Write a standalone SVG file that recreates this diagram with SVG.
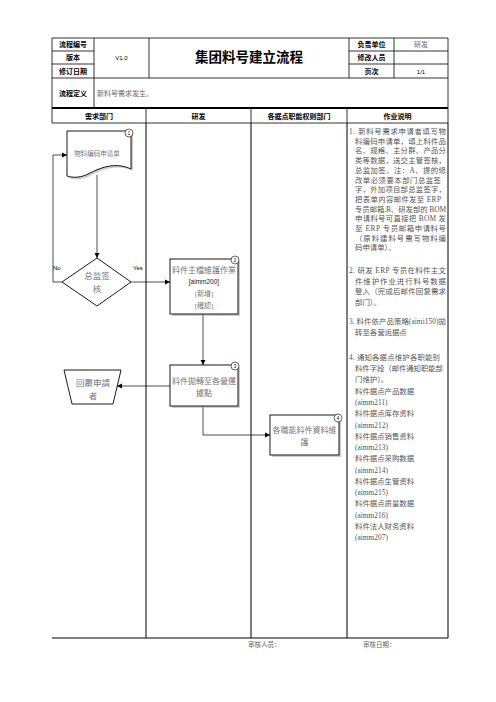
<svg xmlns="http://www.w3.org/2000/svg" width="496" height="702" viewBox="0 0 496 702">
<defs>
<style>
.bg{fill:#fff}
.ln{stroke:#000;stroke-width:0.8;fill:none}
.lane{stroke:#000;stroke-width:1;fill:none}
.lbl{font-family:"Noto Sans CJK SC","Liberation Sans",sans-serif;font-weight:700;font-size:7px;fill:#000;text-anchor:middle}
.sm{font-family:"Liberation Sans","Noto Sans CJK SC",sans-serif;font-size:6px;fill:#000;text-anchor:middle}
.gr{font-family:"Liberation Serif","Noto Sans CJK SC",serif;fill:#666}
.nt{font-family:"Liberation Serif","Noto Sans CJK TC",serif;fill:#777;text-anchor:middle}
.desc{font-family:"Liberation Serif","Noto Sans CJK SC",serif;font-size:7.4px;fill:#555}
.node{fill:#fff;stroke:#000;stroke-width:0.9}
.shd{fill:#aaa;opacity:0.6}
.num{fill:#fff;stroke:#000;stroke-width:0.6}
.numt{font-family:"Liberation Sans",sans-serif;font-size:4.5px;fill:#000;text-anchor:middle}
.cn{stroke:#000;stroke-width:0.7;fill:none;marker-end:url(#ah)}
.yn{font-family:"Liberation Sans",sans-serif;font-size:6px;fill:#000}
</style>
<marker id="ah" markerUnits="userSpaceOnUse" markerWidth="6" markerHeight="6" refX="5" refY="3" orient="auto">
<path d="M0,0.5 L5,3 L0,5.5 Z" fill="#000"/>
</marker>
</defs>
<rect class="bg" x="0" y="0" width="496" height="702"/>

<g id="header-table">
<path class="ln" d="M52,38 H448 M52,51 H94 M349,51 H448 M52,64 H94 M349,64 H448 M52,78 H448 M52,123 H448 M52,38 V123 M94,38 V107 M149,38 V78 M349,38 V78 M394,38 V78 M448,38 V123 M146,109 V123 M251,109 V123 M347,109 V123"/>
<line x1="52" y1="108" x2="448" y2="108" stroke="#000" stroke-width="2"/>
<text class="lbl" x="73" y="47">流程编号</text>
<text class="lbl" x="73" y="60">版本</text>
<text class="lbl" x="73" y="73.5">修订日期</text>
<text class="lbl" x="73" y="95.5">流程定义</text>
<text class="sm" x="121.5" y="60">V1.0</text>
<text x="249" y="62" font-family="'Noto Sans CJK SC',sans-serif" font-weight="700" font-size="13.5" text-anchor="middle" fill="#000">集团料号建立流程</text>
<text class="lbl" x="371.5" y="47">负责单位</text>
<text class="lbl" x="371.5" y="60">修改人员</text>
<text class="lbl" x="371.5" y="73.5">页次</text>
<text class="gr" x="421" y="47" font-size="7" text-anchor="middle">研发</text>
<text class="sm" x="421" y="73.5">1/1</text>
<text class="gr" x="97" y="96" font-size="7">新料号需求发生。</text>
<text class="lbl" x="99" y="119">需求部门</text>
<text class="lbl" x="198.5" y="119">研发</text>
<text class="lbl" x="299" y="119">各据点职能权则部门</text>
<text class="lbl" x="397.5" y="119">作业说明</text>
</g>

<g id="lanes">
<path class="lane" d="M146,123 V638 M251,123 V638 M347,123 V638 M448,123 V638 M52,638 H448"/>
</g>

<g id="connectors">
<polyline class="cn" points="62,282 53,282 53,155 67,155"/>
<line class="cn" x1="97" y1="175" x2="97" y2="258"/>
<line class="cn" x1="131" y1="282" x2="170" y2="282"/>
<line class="cn" x1="203" y1="314" x2="203" y2="365"/>
<line class="cn" x1="170" y1="386" x2="117" y2="386"/>
<polyline class="cn" points="203,406 203,435 270,435"/>
<text class="yn" x="53" y="270">No</text>
<text class="yn" x="133" y="270">Yes</text>
</g>

<g id="node1">
<path class="shd" d="M69,133 H133 V171 C118,164 104,169 92,175 C83,180 75,180 69,178 Z"/>
<path class="node" d="M67,131 H131 V169 C116,162 102,167 90,173 C81,178 73,178 67,176 Z"/>
<text class="nt" x="97" y="155.5" font-size="6.5">物料编码申请单</text>
<circle class="num" cx="129" cy="133" r="4"/><text class="numt" x="129" y="134.6">1</text>
</g>

<g id="node-decision">
<polygon class="node" points="97,258 131,282 97,306 62,282"/>
<text class="nt" x="97" y="279" font-size="8.5">总监签</text>
<text class="nt" x="97" y="292" font-size="8.5">核</text>
</g>

<g id="node2">
<rect class="shd" x="172" y="261" width="68" height="55"/>
<rect class="node" x="170" y="259" width="68" height="55"/>
<text class="nt" x="204" y="273" font-size="8">料件主檔維護作業</text>
<text x="204" y="284" font-size="6.5" font-family="'Liberation Sans',sans-serif" fill="#222" text-anchor="middle">[aimm200]</text>
<text class="nt" x="204" y="296" font-size="7">[新增]</text>
<text class="nt" x="204" y="308" font-size="7">[確認]</text>
<circle class="num" cx="235" cy="260" r="4"/><text class="numt" x="235" y="261.6">2</text>
</g>

<g id="node3">
<rect class="shd" x="172" y="367" width="68" height="41"/>
<rect class="node" x="170" y="365" width="68" height="41"/>
<text class="nt" x="204" y="384" font-size="8">料件拋轉至各營運</text>
<text class="nt" x="204" y="396" font-size="8">據點</text>
<circle class="num" cx="235" cy="366" r="4"/><text class="numt" x="235" y="367.6">3</text>
</g>

<g id="node-reply">
<polygon class="node" points="64,370 121,370 113,404 72,404"/>
<text class="nt" x="93" y="386" font-size="8.5">回覆申請</text>
<text class="nt" x="93" y="398.5" font-size="8.5">者</text>
</g>

<g id="node4">
<rect class="shd" x="272" y="417" width="69" height="40"/>
<rect class="node" x="270" y="415" width="69" height="40"/>
<text class="nt" x="304.5" y="433" font-size="8">各職能料件資料維</text>
<text class="nt" x="304.5" y="445" font-size="8">護</text>
<circle class="num" cx="338" cy="418" r="4"/><text class="numt" x="338" y="419.6">4</text>
</g>

<g id="description">
<text class="desc" x="349" y="134" textLength="97" lengthAdjust="spacing">1. 新料号需求申请者填写物</text>
<text class="desc" x="355" y="143.7" textLength="91" lengthAdjust="spacing">料编码申请单，填上料件品</text>
<text class="desc" x="355" y="153.4" textLength="91" lengthAdjust="spacing">名、规格、主分群、产品分</text>
<text class="desc" x="355" y="163.1" textLength="91" lengthAdjust="spacing">类等数据，送交主管签核，</text>
<text class="desc" x="355" y="172.8" textLength="91" lengthAdjust="spacing">总监加签。注：A、提的修</text>
<text class="desc" x="355" y="182.5" textLength="86" lengthAdjust="spacing">改单必须要本部门总监签</text>
<text class="desc" x="355" y="192.2" textLength="91" lengthAdjust="spacing">字，外加项目部总监签字，</text>
<text class="desc" x="355" y="201.9" textLength="86" lengthAdjust="spacing">把表单内容邮件发至 ERP</text>
<text class="desc" x="355" y="211.6" textLength="91" lengthAdjust="spacing">专员邮箱.B、研发部的 BOM</text>
<text class="desc" x="355" y="221.3" textLength="91" lengthAdjust="spacing">申请料号可直接把 BOM 发</text>
<text class="desc" x="355" y="231" textLength="91" lengthAdjust="spacing">至 ERP 专员邮箱申请料号</text>
<text class="desc" x="355" y="240.7" textLength="91" lengthAdjust="spacing">（原料建料号需写物料编</text>
<text class="desc" x="355" y="250.4">码申请单）。</text>
<text class="desc" x="349" y="273" textLength="97" lengthAdjust="spacing">2. 研发 ERP 专员在料件主文</text>
<text class="desc" x="355" y="283.5" textLength="91" lengthAdjust="spacing">件维护作业进行料号数据</text>
<text class="desc" x="355" y="294" textLength="91" lengthAdjust="spacing">登入（完成后邮件回复需求</text>
<text class="desc" x="355" y="304.5">部门）。</text>
<text class="desc" x="349" y="324" textLength="97" lengthAdjust="spacing">3. 料件依产品策略(aimi150)拋</text>
<text class="desc" x="355" y="335">转至各营运据点</text>
<text class="desc" x="349" y="360" textLength="91" lengthAdjust="spacing">4. 通知各据点维护各职能别</text>
<text class="desc" x="355" y="371" textLength="88" lengthAdjust="spacing">料件字段（邮件通知职能部</text>
<text class="desc" x="355" y="382">门维护）。</text>
<text class="desc" x="355" y="393.5">料件据点产品数据</text>
<text class="desc" x="355" y="405">(aimm211)</text>
<text class="desc" x="355" y="416">料件据点库存资料</text>
<text class="desc" x="355" y="427.5">(aimm212)</text>
<text class="desc" x="355" y="438.5">料件据点销售资料</text>
<text class="desc" x="355" y="450">(aimm213)</text>
<text class="desc" x="355" y="461">料件据点采购数据</text>
<text class="desc" x="355" y="472.5">(aimm214)</text>
<text class="desc" x="355" y="483.5">料件据点生管资料</text>
<text class="desc" x="355" y="495">(aimm215)</text>
<text class="desc" x="355" y="506">料件据点质量数据</text>
<text class="desc" x="355" y="517.5">(aimm216)</text>
<text class="desc" x="355" y="528.5">料件法人财务资料</text>
<text class="desc" x="355" y="540">(aimm207)</text>
</g>

<g id="footer">
<text class="gr" x="248" y="646.5" font-size="6.5">审核人员：</text>
<text class="gr" x="363" y="646.5" font-size="6.5">审核日期：</text>
</g>
</svg>
